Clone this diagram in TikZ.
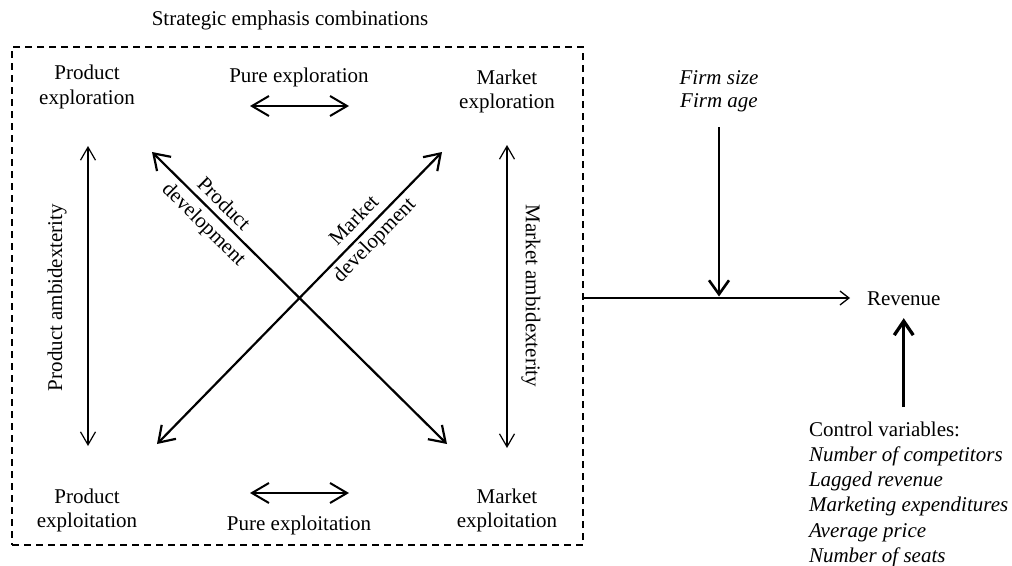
\documentclass[tikz,border=0pt]{standalone}
\usepackage{fontspec}
\setmainfont{Liberation Serif}
\usetikzlibrary{arrows.meta}
\begin{document}
\begin{tikzpicture}[x=1pt,y=-1pt,
  every node/.style={font=\fontsize{21}{24.7}\selectfont, inner sep=0pt, outer sep=0pt},
  twoline/.style={align=center, anchor=north},
  diaglabel/.style={align=center, font=\fontsize{21}{28}\selectfont},
  boxstyle/.style={draw, line width=1.2pt, dash pattern=on 7pt off 5pt, minimum width=571pt, minimum height=498pt},
  diagarrow/.style={line width=2.2pt, {Straight Barb[length=15pt,width=20pt]}-{Straight Barb[length=15pt,width=20pt]}},
  purearrow/.style={line width=2pt, {Straight Barb[length=17pt,width=20pt]}-{Straight Barb[length=17pt,width=20pt]}},
  ambarrow/.style={line width=1.2pt, {Straight Barb[length=13pt,width=15pt]}-{Straight Barb[length=13pt,width=15pt]}},
  modarrow/.style={line width=2.6pt, -{Straight Barb[length=14pt,width=20pt]}},
  ctrlarrow/.style={line width=3.3pt, -{Straight Barb[length=14pt,width=19pt]}},
  mainarrow/.style={line width=1.3pt, -{Straight Barb[length=9pt,width=14pt]}},
]
\useasboundingbox (0,0) rectangle (1012,565);

% title and box
\node[anchor=base] (title) at (290,25) {Strategic emphasis combinations};
\node[boxstyle] (box) at (297.5,296) {};

% corner and side labels
\node[twoline] (pexr) at (87,65.2) {Product\\exploration};
\node[anchor=base] (pure1) at (299,82) {Pure exploration};
\node[twoline] (mexr) at (507,69.7) {Market\\exploration};
\node[twoline] (pexi) at (87,488.7) {Product\\exploitation};
\node[anchor=base] (pure2) at (299,530) {Pure exploitation};
\node[twoline] (mexi) at (507,488.7) {Market\\exploitation};
\node[rotate=90] (pamb) at (57,297.5) {Product ambidexterity};
\node[rotate=-90] (mamb) at (531,296) {Market ambidexterity};
\node[diaglabel, rotate=-44.7] (pdl) at (213,215) {Product\\development};
\node[diaglabel, rotate=45.7] (mdl) at (365,231) {Market\\development};

% arrow end points
\coordinate (pdA) at (152,152); \coordinate (pdB) at (447,444);
\coordinate (mdA) at (157,444); \coordinate (mdB) at (442,152);
\coordinate (paA) at (88,146);  \coordinate (paB) at (88,446);
\coordinate (maA) at (507,145); \coordinate (maB) at (507,448);
\coordinate (peA) at (250,106); \coordinate (peB) at (349,106);
\coordinate (piA) at (250,493); \coordinate (piB) at (349,493);

\draw[diagarrow] (pdA) -- (pdB);
\draw[diagarrow] (mdA) -- (mdB);
\draw[ambarrow] (paA) -- (paB);
\draw[ambarrow] (maA) -- (maB);
\draw[purearrow] (peA) -- (peB);
\draw[purearrow] (piA) -- (piB);

% right part
\node[anchor=base west] (rev) at (867,305) {Revenue};
\node[twoline, font=\fontsize{21}{23}\selectfont\itshape] (firm) at (719,70.1) {Firm size\\Firm age};
\coordinate (join) at (719,298);
\node[anchor=north west, align=left, font=\fontsize{21}{25.2}\selectfont] (ctrl) at (809,421.7)
  {Control variables:\\\textit{Number of competitors}\\\textit{Lagged revenue}\\\textit{Marketing expenditures}\\\textit{Average price}\\\textit{Number of seats}};

\draw[mainarrow] (box.east |- join) -- ([xshift=-17pt]rev.west |- join);
\draw[modarrow, shorten <=16pt, shorten >=1.5pt] (firm.south) -- (join);
\draw[ctrlarrow] ([yshift=14.7pt]ctrl.north -| rev.south) -- ([yshift=-13pt]rev.south);
\end{tikzpicture}
\end{document}
